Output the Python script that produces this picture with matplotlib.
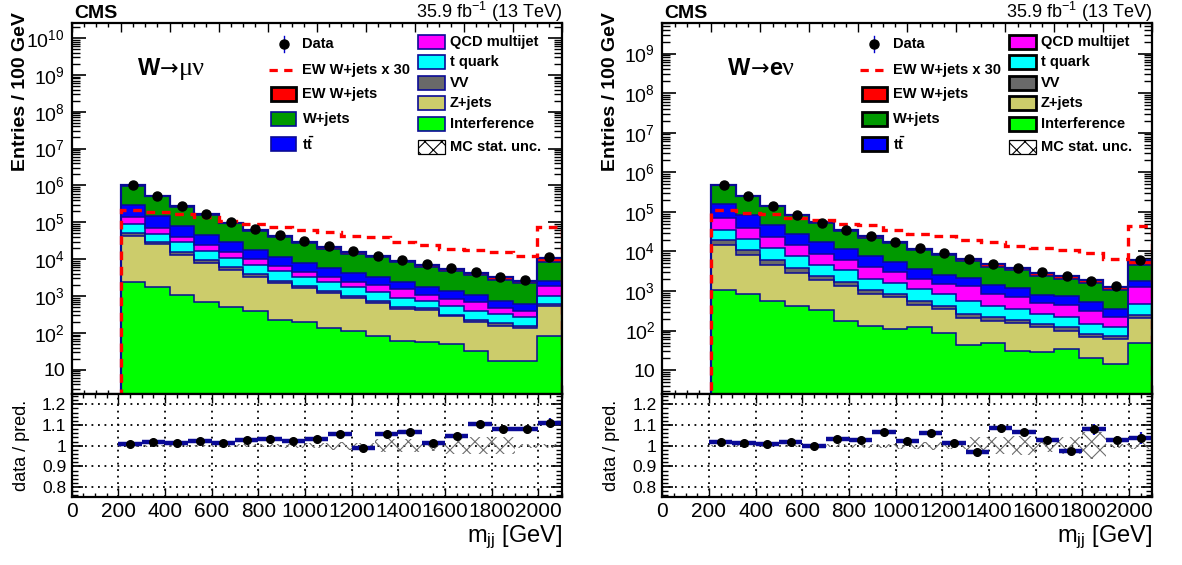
import numpy as np
import matplotlib
matplotlib.use("Agg")
import matplotlib.pyplot as plt
from matplotlib.patches import Rectangle
from matplotlib.lines import Line2D
from matplotlib.ticker import MultipleLocator, FixedLocator, FuncFormatter, NullFormatter

plt.rcParams['font.family'] = ['Liberation Sans', 'DejaVu Sans']
plt.rcParams['mathtext.fontset'] = 'custom'
plt.rcParams['mathtext.rm'] = 'Liberation Sans'
plt.rcParams['mathtext.it'] = 'Liberation Sans:italic'
plt.rcParams['mathtext.bf'] = 'Liberation Sans:bold'
plt.rcParams['hatch.linewidth'] = 0.8
plt.rcParams['hatch.color'] = '#6e6e6e'

# ---------------- data ----------------
mjj_edges = [200, 300, 400, 500, 600, 700, 800, 900, 1000, 1100, 1200,
             1300, 1400, 1500, 1600, 1700, 1800, 1900, 2000]
ratio_edges = [200, 300, 400, 500, 600, 700, 800, 900, 1000, 1100, 1200,
               1300, 1400, 1500, 1600, 1700, 1800, 1900, 2000, 2100]

# W -> mu nu channel (stack order: bottom -> top)
mu_interference = [2360, 1730, 1090, 676, 515, 401, 224, 193, 136, 110, 84, 61, 55, 50, 31.5, 16.8, 17.6, 84]
mu_zjets = [41400, 23770, 12010, 7414, 4705, 2969, 1996, 1467, 1054, 757, 565, 394, 363, 231, 161, 140, 118, 442]
mu_vv = [8000, 3900, 2300, 1460, 820, 610, 400, 260, 210, 163, 101, 60, 56, 32, 31, 24, 21, 82]
mu_tquark = [39000, 19200, 13400, 7550, 4760, 3150, 2080, 1310, 960, 700, 510, 370, 276, 235, 177, 145, 107, 422]
mu_qcd = [47200, 22200, 10700, 7800, 4600, 3070, 2000, 1370, 1010, 730, 740, 675, 320, 284, 275, 148, 137, 890]
mu_ttbar = [148000, 76200, 39000, 21700, 13400, 8000, 5100, 3490, 2420, 1690, 1230, 900, 660, 518, 394, 276, 207, 700]
mu_wjets = [707000, 359700, 184800, 111800, 64300, 41200, 28600, 20000, 13500, 9790, 7950, 5740, 4420, 3450, 2600, 1965, 1590, 5620]
mu_ewk = [7300, 6290, 5660, 4590, 3730, 3030, 2460, 2000, 1800, 1460, 1320, 960, 830, 637, 574, 515, 418, 2560]
mu_data = [1.01e6, 5.2e5, 2.81e5, 1.65e5, 1.01e5, 6.64e4, 4.56e4, 3.14e4, 2.24e4, 1.64e4,
           1.22e4, 9350, 7270, 5670, 4420, 3370, 2730, 1.18e4]
mu_ratio = [1.010, 1.017, 1.013, 1.025, 1.012, 1.028, 1.030, 1.025, 1.031, 1.055,
            0.990, 1.055, 1.066, 1.013, 1.046, 1.107, 1.083, 1.081, 1.112]
mu_ratio_err = [0.002, 0.002, 0.003, 0.003, 0.003, 0.004, 0.004, 0.005, 0.005, 0.006,
                0.006, 0.007, 0.008, 0.008, 0.009, 0.012, 0.013, 0.012, 0.02]
mu_mc_unc = [0.004, 0.004, 0.004, 0.005, 0.005, 0.008, 0.008, 0.01, 0.012, 0.02,
             0.015, 0.03, 0.03, 0.025, 0.04, 0.04, 0.04, 0.01, 0.01]

# W -> e nu channel
e_interference = [1090, 847, 574, 430, 334, 179, 134, 110, 121, 87, 44, 49, 31, 29, 34, 20, 14.3, 48]
e_zjets = [13100, 7070, 4016, 2400, 1516, 1121, 713, 588, 334, 267, 161, 123, 122, 92, 66, 47.5, 47.2, 157]
e_vv = [4800, 3080, 1560, 950, 480, 370, 243, 149, 119, 76, 59, 46, 33, 27, 21, 14.6, 13.1, 44]
e_tquark = [16400, 9100, 5950, 3680, 2260, 1630, 940, 763, 566, 417, 289, 212, 168, 116, 97, 65.6, 51.4, 224]
e_qcd = [34400, 19600, 11000, 6740, 4140, 2620, 1980, 1390, 890, 613, 747, 417, 372, 228, 237, 160, 92, 777]
e_ttbar = [85200, 41800, 22400, 13800, 8470, 5280, 3450, 2370, 1610, 1100, 850, 583, 474, 323, 285, 234, 136, 530]
e_wjets = [310400, 167300, 92600, 54500, 36100, 22500, 15000, 10700, 7130, 5370, 3710, 2690, 2210, 1600, 1240, 1075, 679, 2710]
e_ewk = [3630, 3180, 2880, 2330, 2030, 1670, 1520, 1130, 933, 800, 657, 573, 447, 413, 353, 303, 217, 1430]
e_data = [4.75e5, 2.52e5, 1.41e5, 8.48e4, 5.32e4, 3.54e4, 2.40e4, 1.72e4, 1.21e4, 9080,
          6520, 4690, 3860, 2940, 2330, 1780, 1330, 6150]
e_ratio = [1.017, 1.013, 1.010, 1.017, 1.000, 1.033, 1.028, 1.068, 1.025, 1.060,
           1.015, 0.970, 1.088, 1.066, 1.026, 0.972, 1.079, 1.026, 1.038]
e_ratio_err = [0.003, 0.003, 0.003, 0.004, 0.004, 0.005, 0.005, 0.006, 0.007, 0.008,
               0.009, 0.01, 0.011, 0.012, 0.015, 0.015, 0.028, 0.02, 0.03]
e_mc_unc = [0.004, 0.004, 0.004, 0.005, 0.005, 0.008, 0.01, 0.01, 0.015, 0.02,
            0.015, 0.04, 0.04, 0.045, 0.03, 0.04, 0.065, 0.01, 0.015]

ewk_scale = 30

# ---------------- style ----------------
NAVY = '#0a0a96'
stack_names = ['Interference', 'Z+jets', 'VV', 't quark', 'QCD multijet', 'tt', 'W+jets', 'EW W+jets']
stack_colors = ['#00ff00', '#cccc6b', '#696969', '#00ffff', '#ff00ff', '#0000ff', '#009900', '#ff0000']

W, H = 1182, 565
fig = plt.figure(figsize=(W / 100, H / 100), dpi=100)

Y_TOP, Y_MID, Y_BOT = 22.7, 394.0, 497.4
AX_W = 490.0


def make_log_label(ylim):
    def log_label(v, pos):
        if v <= 0 or v < ylim[0] or v > ylim[1]:
            return ''
        e = int(round(np.log10(v)))
        if abs(v - 10 ** e) > 1e-6 * v:
            return ''
        if e == 1:
            return '10'
        return r'$10^{%d}$' % e
    return log_label


def ratio_label(v, pos):
    s = ('%.1f' % v)
    if s.endswith('.0'):
        s = s[:-2]
    return s


def draw_legend(ax, black_edges):
    rows_l = [0.9426, 0.8726, 0.808, 0.7406, 0.6733]
    rows_r = [0.9488, 0.8933, 0.8376, 0.7837, 0.7272, 0.666]
    bh = 0.038
    lx0, lx1, ltx = 0.407, 0.458, 0.471
    rx0, rx1, rtx = 0.707, 0.762, 0.772
    kw = dict(transform=ax.transAxes, clip_on=False, zorder=8)
    tkw = dict(transform=ax.transAxes, fontsize=10.5, fontweight='bold', va='center', ha='left', zorder=8)
    # Data
    cx = 0.5 * (lx0 + lx1)
    ax.add_line(Line2D([cx, cx], [rows_l[0] - 0.022, rows_l[0] + 0.022], color='#0000cc', lw=1.0, **kw))
    ax.add_line(Line2D([cx], [rows_l[0]], marker='o', color='black', ms=6.5, ls='none', **kw))
    ax.text(ltx, rows_l[0], 'Data', **tkw)
    # EW x 30
    ax.add_line(Line2D([lx0 - 0.004, lx1 + 0.004], [rows_l[1]] * 2, color='red', lw=2.3, ls=(0, (2.6, 2.0)), **kw))
    ax.text(ltx, rows_l[1], 'EW W+jets x %d' % ewk_scale, **tkw)
    left_boxes = [('EW W+jets', stack_colors[7], True), ('W+jets', stack_colors[6], False),
                  (r'$\mathbf{t\bar{t}}$', stack_colors[5], False)]
    for (lab, col, thick), y in zip(left_boxes, rows_l[2:]):
        ec = 'black' if (thick or black_edges) else NAVY
        lw = 2.0 if (thick or black_edges) else 1.2
        ax.add_patch(Rectangle((lx0, y - bh / 2), lx1 - lx0, bh, fc=col, ec=ec, lw=lw, **kw))
        ax.text(ltx, y, lab, **tkw)
    right_boxes = [('QCD multijet', stack_colors[4]), ('t quark', stack_colors[3]),
                   ('VV', stack_colors[2]), ('Z+jets', stack_colors[1]), ('Interference', stack_colors[0])]
    for (lab, col), y in zip(right_boxes, rows_r[:5]):
        ec = 'black' if black_edges else NAVY
        lw = 2.0 if black_edges else 1.2
        ax.add_patch(Rectangle((rx0, y - bh / 2), rx1 - rx0, bh, fc=col, ec=ec, lw=lw, **kw))
        ax.text(rtx, y, lab, **tkw)
    y = rows_r[5]
    ax.add_patch(Rectangle((rx0, y - bh / 2), rx1 - rx0, bh, fc='white', ec='black', lw=0.9,
                           hatch='xx', **kw))
    ax.text(rtx, y, 'MC stat. unc.', **tkw)


def draw_channel(x0, comps, ewk, data, ratio, ratio_err, mc_unc, ylim, channel_parts, black_edges):
    ax = fig.add_axes([x0 / W, 1 - Y_MID / H, AX_W / W, (Y_MID - Y_TOP) / H])
    axr = fig.add_axes([x0 / W, 1 - Y_BOT / H, AX_W / W, (Y_BOT - Y_MID) / H])

    edges = np.asarray(mjj_edges, float)
    centers = 0.5 * (edges[1:] + edges[:-1])
    floor = ylim[0] * 1e-3
    ax.set_yscale('log')

    all_comps = list(comps) + [ewk]
    cum = np.zeros(len(edges) - 1)
    tops = []
    for vals, col in zip(all_comps, stack_colors):
        lower = cum.copy()
        cum = cum + np.asarray(vals, float)
        base = np.where(lower > 0, lower, floor)
        ax.stairs(cum, edges, baseline=base, fill=True, facecolor=col, edgecolor='none', lw=0, zorder=2)
        tops.append(cum.copy())
    for t in tops[:-1]:
        ax.stairs(t, edges, baseline=None, color=NAVY, lw=1.1, zorder=3)
    ax.stairs(tops[-1], edges, baseline=floor, color=NAVY, lw=1.6, zorder=3)
    ax.stairs(np.asarray(ewk, float) * ewk_scale, edges, baseline=floor, color='red', lw=2.4,
              ls=(0, (2.6, 2.0)), zorder=4)
    ax.plot(centers, data, 'o', color='black', ms=6.5, zorder=5)

    ax.set_xlim(0, 2000)
    ax.set_ylim(*ylim)
    # decade ticks only inside the visible range
    kmin = int(np.ceil(np.log10(ylim[0])))
    kmax = int(np.floor(np.log10(ylim[1])))
    majors = [10.0 ** k for k in range(kmin, kmax + 1)]
    minors = [m * 10.0 ** k for k in range(kmin - 1, kmax + 1) for m in range(2, 10)
              if ylim[0] <= m * 10.0 ** k <= ylim[1]]
    ax.xaxis.set_major_locator(MultipleLocator(200))
    ax.xaxis.set_minor_locator(MultipleLocator(50))
    ax.yaxis.set_major_locator(FixedLocator(majors))
    ax.yaxis.set_minor_locator(FixedLocator(minors))
    ax.yaxis.set_major_formatter(FuncFormatter(make_log_label(ylim)))
    ax.yaxis.set_minor_formatter(NullFormatter())
    ax.tick_params(which='both', direction='in', top=True, right=True, labelbottom=False)
    ax.tick_params(axis='x', which='major', length=6.5, width=1.0)
    ax.tick_params(axis='x', which='minor', length=3.2, width=1.0)
    ax.tick_params(axis='y', which='major', length=10, width=1.2, labelsize=14, pad=5)
    ax.tick_params(axis='y', which='minor', length=5.5, width=1.0)
    for sp in ax.spines.values():
        sp.set_linewidth(1.6)
        sp.set_zorder(10)

    # channel label
    prev = None
    for txt, wt, fam, fs in channel_parts:
        if prev is None:
            prev = ax.text(0.135, 0.86, txt, transform=ax.transAxes, fontsize=fs,
                           fontweight=wt, family=fam, ha='left', va='baseline', zorder=8)
        else:
            prev = ax.annotate(txt, xy=(1, 0), xycoords=prev, fontsize=fs, fontweight=wt,
                               family=fam, ha='left', va='bottom', zorder=8)

    draw_legend(ax, black_edges)

    # ratio panel
    redges = np.asarray(ratio_edges, float)
    rcent = 0.5 * (redges[1:] + redges[:-1])
    half = np.diff(redges) / 2
    unc = np.asarray(mc_unc, float)
    axr.stairs(1 + unc, redges, baseline=1 - unc, fill=True, facecolor='none',
               edgecolor='#6e6e6e', hatch='xx', lw=0, zorder=2)
    axr.errorbar(rcent, ratio, xerr=half, fmt='none', ecolor=NAVY, elinewidth=3.2, capsize=0, zorder=3)
    axr.errorbar(rcent, ratio, yerr=ratio_err, fmt='none', ecolor='#1414c8', elinewidth=1.6, capsize=0, zorder=3)
    axr.plot(rcent, ratio, 'o', color='black', ms=5.5, zorder=4)
    axr.set_xlim(0, 2100)
    axr.set_ylim(0.75, 1.25)
    axr.xaxis.set_major_locator(MultipleLocator(200))
    axr.xaxis.set_minor_locator(MultipleLocator(50))
    axr.yaxis.set_major_locator(MultipleLocator(0.1))
    axr.yaxis.set_minor_locator(MultipleLocator(0.02))
    axr.yaxis.set_major_formatter(FuncFormatter(ratio_label))
    axr.xaxis.set_major_formatter(FuncFormatter(lambda v, p: '%d' % round(v)))
    axr.set_axisbelow(True)
    axr.grid(True, which='major', color='black', ls=(0, (1, 2.6)), lw=1.3)
    axr.tick_params(which='both', direction='in', top=True, right=True)
    axr.tick_params(axis='x', which='major', length=6.5, width=1.0, labelsize=15, pad=3)
    axr.tick_params(axis='x', which='minor', length=3.2, width=1.0)
    axr.tick_params(axis='y', which='major', length=8, width=1.2, labelsize=12.5, pad=4)
    axr.tick_params(axis='y', which='minor', length=4, width=1.0)
    for sp in axr.spines.values():
        sp.set_linewidth(1.6)
        sp.set_zorder(10)

    # texts
    fig.text((x0 + 2.3) / W, 1 - 18.5 / H, 'CMS', fontsize=14, fontweight='bold', ha='left', va='baseline')
    fig.text((x0 + AX_W) / W, 1 - 18.5 / H, r'35.9 fb$^{-1}$ (13 TeV)', fontsize=13,
             ha='right', va='baseline')
    fig.text((x0 - 51.5) / W, 1 - 12 / H, 'Entries / 100 GeV', rotation=90, fontsize=14,
             fontweight='bold', ha='center', va='top')
    fig.text((x0 - 50.5) / W, 1 - 0.5 * (Y_MID + Y_BOT) / H, 'data / pred.', rotation=90,
             fontsize=13, ha='center', va='center')
    fig.text((x0 + AX_W) / W, 1 - 537 / H, r'm$_{\mathrm{jj}}$ [GeV]', fontsize=17,
             ha='right', va='center')


SANS = ['Liberation Sans', 'DejaVu Sans']
ARROW = ['DejaVu Sans']
GREEK = ['Liberation Serif', 'DejaVu Serif']
draw_channel(71.7,
             [mu_interference, mu_zjets, mu_vv, mu_tquark, mu_qcd, mu_ttbar, mu_wjets],
             mu_ewk, mu_data, mu_ratio, mu_ratio_err, mu_mc_unc,
             (2.2, 2.6e10),
             [('W', 'bold', SANS, 17), ('→', 'normal', ARROW, 16), ('μν', 'normal', GREEK, 19)],
             False)
draw_channel(662.3,
             [e_interference, e_zjets, e_vv, e_tquark, e_qcd, e_ttbar, e_wjets],
             e_ewk, e_data, e_ratio, e_ratio_err, e_mc_unc,
             (2.5, 6.0e9),
             [('W', 'bold', SANS, 17), ('→', 'normal', ARROW, 16), ('e', 'bold', SANS, 17),
              ('ν', 'normal', GREEK, 19)],
             True)

fig.savefig('out.png', dpi=100)
